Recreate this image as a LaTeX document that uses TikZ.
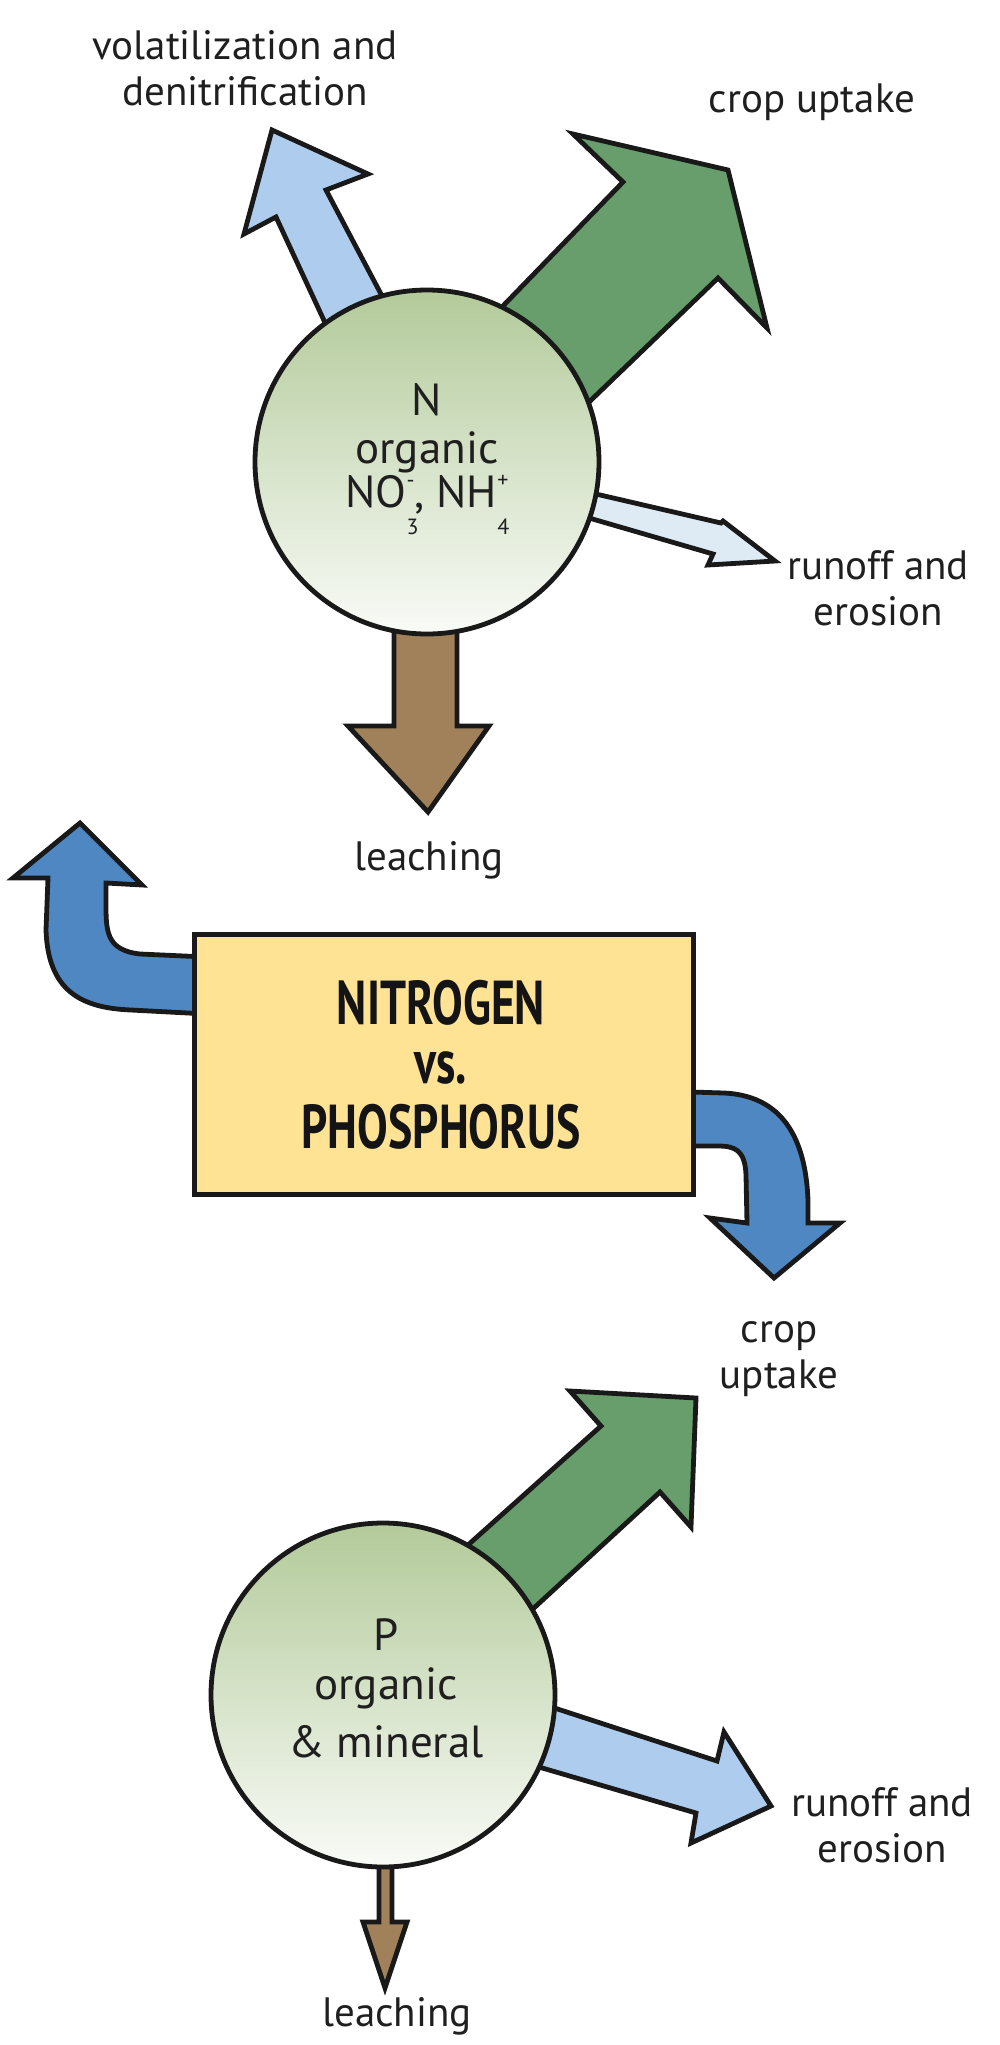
\documentclass[tikz,border=0pt]{standalone}
\usepackage{fontspec}
\setmainfont{PT Sans}
\usepackage{graphicx}
\definecolor{lblue}{HTML}{AECDEE}
\definecolor{dgreen}{HTML}{679E6B}
\definecolor{brownc}{HTML}{A0815A}
\definecolor{palec}{HTML}{DEEBF5}
\definecolor{bluec}{HTML}{4F87C2}
\definecolor{yell}{HTML}{FEE395}
\definecolor{ctop}{HTML}{B3CA9A}
\definecolor{cbot}{HTML}{F9FBF7}
\newcommand{\smallidx}[1]{{\fontsize{11}{11}\selectfont #1}}
\begin{document}
\begin{tikzpicture}[x=0.5pt,y=-0.5pt,
  arr/.style={draw=black!90,line width=2.4pt,line join=miter},
  circ/.style={circle,draw=black!90,line width=2.4pt,minimum size=172pt,top color=ctop,bottom color=cbot,inner sep=0},
  lab/.style={font=\fontsize{20.5}{23}\selectfont,align=center,text=black!88,inner sep=0},
  clab/.style={font=\fontsize{22.5}{25}\selectfont,align=center,text=black!88,inner sep=0},
  big/.style={font=\fontsize{31}{33}\selectfont\bfseries,inner sep=0,text=black!92}]
\useasboundingbox (0,0) rectangle (1000,2045);
% N arrows
\fill[lblue,arr] (400,330) -- (326,190) -- (368,174) -- (272,130) -- (244,234) -- (276,217) -- (340,355) -- cycle;
\fill[dgreen,arr] (470,340) -- (623,182) -- (573,134) -- (728,170) -- (767,328) -- (718,278) -- (560,430) -- cycle;
\fill[palec,arr] (570,488) -- (721,523) -- (723,521) -- (775,561) -- (708,565) -- (713,554) -- (565,511) -- cycle;
\fill[brownc,arr] (394,600) -- (394,726) -- (348,726) -- (428,812) -- (489,726) -- (457,726) -- (457,600) -- cycle;
\node[circ] (N) at (427,462) {};
\node[clab] (Nt1) at (427,400) {N};
\node[clab] (Nt2) at (427,452) {organic};
\node[clab] (Nt3) at (427,505) {NO\rlap{\raisebox{-1.2ex}{\smallidx{3}}}\raisebox{0.9ex}{\smallidx{-}}, NH\rlap{\raisebox{-1.2ex}{\smallidx{4}}}\raisebox{0.9ex}{\smallidx{+}}};
\node[lab] (vol) at (245,68) {volatilization and\\denitrification};
\node[lab] (cu1) at (812,102) {crop uptake};
\node[lab] (ro1) at (878,588) {runoff and\\erosion};
\node[lab] (le1) at (429,860) {leaching};
% curved arrows
\fill[bluec,arr] (228,958) -- (140,954) .. controls (105,950) and (106,930) .. (106,900) -- (106,883) -- (142,885) -- (80,823) -- (13,878) -- (48,878) -- (46,930) .. controls (48,990) and (80,1008) .. (131,1010) -- (226,1015) -- cycle;
\fill[bluec,arr] (625,1090) -- (724,1093) .. controls (790,1096) and (806,1150) .. (808,1200) -- (808,1223) -- (840,1223) -- (774,1278) -- (710,1218) -- (747,1223) -- (746,1175) .. controls (745,1150) and (735,1146) .. (718,1146) -- (625,1146) -- cycle;
\node[draw=black!90,line width=2.4pt,fill=yell,minimum width=249.5pt,minimum height=130pt,anchor=north west,inner sep=0] (box) at (192,932) {};
\node[big] (b1) at (441,1003) {\scalebox{0.74}[1]{NITROGEN}};
\node[big] (b2) at (441,1068) {\scalebox{0.74}[1]{vs.}};
\node[big] (b3) at (441,1127) {\scalebox{0.74}[1]{PHOSPHORUS}};
% P arrows
\fill[dgreen,arr] (440,1570) -- (601,1426) -- (570,1391) -- (696,1398) -- (691,1527) -- (660,1492) -- (510,1630) -- cycle;
\fill[lblue,arr] (530,1700) -- (717,1761) -- (724,1732) -- (771,1806) -- (691,1843) -- (696,1813) -- (515,1760) -- cycle;
\fill[brownc,arr] (379,1840) -- (379,1922) -- (363,1922) -- (385,1988) -- (407,1922) -- (392,1922) -- (392,1840) -- cycle;
\node[circ] (P) at (383,1695) {};
\node[clab] (Pt1) at (386,1635) {P};
\node[clab] (Pt2) at (386,1688) {organic};
\node[clab] (Pt3) at (386,1742) {\&\ mineral};
\node[lab] (cu2) at (779,1359) {crop\\uptake};
\node[lab] (ro2) at (882,1825) {runoff and\\erosion};
\node[lab] (le2) at (397,2016) {leaching};
\end{tikzpicture}
\end{document}
